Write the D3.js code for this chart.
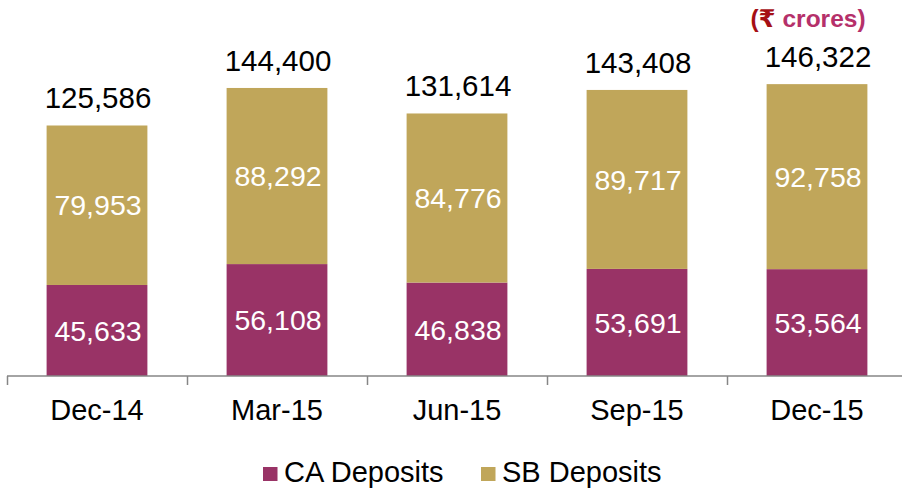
<!DOCTYPE html>
<html><head><meta charset="utf-8">
<script src="https://cdn.jsdelivr.net/npm/d3@7/dist/d3.min.js"></script>
<style>body{margin:0;background:#fff}svg{display:block}text{font-family:"Liberation Sans",Arial,sans-serif}</style>
</head><body>
<script>
const categories = ["Dec-14","Mar-15","Jun-15","Sep-15","Dec-15"];
const caDeposits = [45633,56108,46838,53691,53564];
const sbDeposits = [79953,88292,84776,89717,92758];
const totals = [125586,144400,131614,143408,146322];
const seriesNames = ["CA Deposits","SB Deposits"];
const colors = ["#993366","#C0A65A"];

const W=902,H=489;
const svg=d3.select("body").append("svg").attr("width",W).attr("height",H);
const x=d3.scaleBand().domain(categories).range([7,907]).paddingInner(0.44).paddingOuter(0.22);
const y=d3.scaleLinear().domain([0,188000]).range([376,1]);
const fmt=d3.format(",");

const data=categories.map((c,i)=>({c,ca:caDeposits[i],sb:sbDeposits[i],t:totals[i]}));
const stack=d3.stack().keys(["ca","sb"])(data);

stack.forEach((s,si)=>{
  svg.append("g").selectAll("rect").data(s).join("rect")
    .attr("x",d=>x(d.data.c)).attr("width",x.bandwidth())
    .attr("y",d=>y(d[1])).attr("height",d=>y(d[0])-y(d[1]))
    .attr("fill",colors[si]);
  svg.append("g").selectAll("text").data(s).join("text")
    .attr("x",d=>x(d.data.c)+x.bandwidth()/2+1)
    .attr("y",d=>(y(d[0])+y(d[1]))/2)
    .attr("dy","0.36em").attr("text-anchor","middle")
    .attr("font-size",28.5).attr("fill","#fff")
    .text(d=>fmt(d[1]-d[0]));
});

svg.append("g").selectAll("text").data(data).join("text")
  .attr("x",d=>x(d.c)+x.bandwidth()/2+1).attr("y",d=>y(d.t)-17)
  .attr("text-anchor","middle").attr("font-size",29.5).attr("fill","#000")
  .text(d=>fmt(d.t));

// axis
const ax=svg.append("g");
ax.append("line").attr("x1",7).attr("x2",907).attr("y1",376).attr("y2",376).attr("stroke","#868686").attr("stroke-width",1.5);
const step=x.step();
ax.selectAll("line.t").data(d3.range(categories.length+1)).join("line").attr("class","t")
  .attr("x1",i=>7.5+i*step).attr("x2",i=>7.5+i*step).attr("y1",376).attr("y2",385)
  .attr("stroke","#868686").attr("stroke-width",1.5);
ax.selectAll("text").data(categories).join("text")
  .attr("x",d=>x(d)+x.bandwidth()/2).attr("y",420)
  .attr("text-anchor","middle").attr("font-size",29).attr("fill","#000").text(d=>d);

// unit label
const u=svg.append("text").attr("x",808).attr("y",27).attr("text-anchor","middle")
  .attr("font-size",24.5).attr("font-weight","bold");
u.append("tspan").attr("fill","#A50F15").text("(");
u.append("tspan").attr("fill","#A50F15").style("font-family","'DejaVu Sans','Liberation Sans',sans-serif").text("₹");
u.append("tspan").attr("fill","#B5306A").text(" crores)");

// legend
const lg=svg.append("g");
const lx=[263,481];
seriesNames.forEach((n,i)=>{
  lg.append("rect").attr("x",lx[i]).attr("y",467).attr("width",14.5).attr("height",14).attr("fill",colors[i]);
  lg.append("text").attr("x",lx[i]+21).attr("y",482).attr("font-size",29).attr("fill","#000").text(n);
});
</script>
</body></html>
